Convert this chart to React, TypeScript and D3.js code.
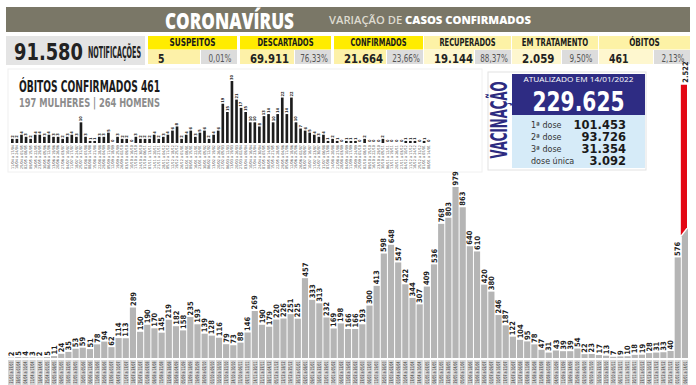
import * as React from 'react';
import * as d3 from 'd3';

// semanas epidemiológicas (rótulos do eixo x)
const semanas = [
  '21/03 a 27/03', '28/03 a 03/04', '04/04 a 10/04', '11/04 a 17/04', '18/04 a 24/04', '25/04 a 01/05', '02/05 a 08/05', '09/05 a 15/05', '16/05 a 22/05', '23/05 a 29/05',
  '30/05 a 05/06', '06/06 a 12/06', '13/06 a 19/06', '20/06 a 26/06', '27/06 a 03/07', '04/07 a 10/07', '11/07 a 17/07', '18/07 a 24/07', '25/07 a 31/07', '01/08 a 07/08',
  '08/08 a 14/08', '15/08 a 21/08', '22/08 a 28/08', '29/08 a 04/09', '05/09 a 11/09', '12/09 a 18/09', '19/09 a 25/09', '26/09 a 02/10', '03/10 a 09/10', '10/10 a 16/10',
  '17/10 a 23/10', '24/10 a 30/10', '31/10 a 06/11', '07/11 a 13/11', '14/11 a 20/11', '21/11 a 27/11', '28/11 a 04/12', '05/12 a 11/12', '12/12 a 18/12', '19/12 a 25/12',
  '26/12 a 01/01', '02/01 a 08/01', '09/01 a 15/01', '16/01 a 22/01', '23/01 a 29/01', '30/01 a 05/02', '06/02 a 12/02', '13/02 a 19/02', '20/02 a 26/02', '27/02 a 05/03',
  '06/03 a 12/03', '13/03 a 19/03', '20/03 a 26/03', '27/03 a 02/04', '03/04 a 09/04', '10/04 a 16/04', '17/04 a 23/04', '24/04 a 30/04', '01/05 a 07/05', '08/05 a 14/05',
  '15/05 a 21/05', '22/05 a 28/05', '29/05 a 04/06', '05/06 a 11/06', '12/06 a 18/06', '19/06 a 25/06', '26/06 a 02/07', '03/07 a 09/07', '10/07 a 16/07', '17/07 a 23/07',
  '24/07 a 30/07', '31/07 a 06/08', '07/08 a 13/08', '14/08 a 20/08', '21/08 a 27/08', '28/08 a 03/09', '04/09 a 10/09', '11/09 a 17/09', '18/09 a 24/09', '25/09 a 01/10',
  '02/10 a 08/10', '09/10 a 15/10', '16/10 a 22/10', '23/10 a 29/10', '30/10 a 05/11', '06/11 a 12/11', '13/11 a 19/11', '20/11 a 26/11', '27/11 a 03/12', '04/12 a 10/12',
  '11/12 a 17/12', '18/12 a 24/12', '25/12 a 31/12', '01/01 a 07/01', '08/01 a 14/01',
];

// casos confirmados por semana
const casos = [
  2, 5, 4, 3, 2, 5, 11, 24, 35, 53,
  59, 51, 78, 94, 62, 114, 113, 289, 150, 190,
  170, 145, 219, 182, 158, 235, 193, 139, 128, 116,
  79, 73, 88, 146, 269, 190, 179, 220, 226, 251,
  225, 457, 333, 313, 232, 169, 198, 166, 166, 193,
  300, 413, 598, 648, 547, 422, 344, 307, 409, 536,
  768, 803, 979, 863, 640, 610, 420, 380, 246, 187,
  122, 104, 95, 78, 47, 31, 43, 39, 39, 54,
  22, 23, 17, 13, 7, 9, 10, 18, 19, 28,
  31, 33, 40, 576, 2522,
];

// óbitos por semana (a partir da 4ª semana)
const obitosSemanas = semanas.slice(3);
const obitos = [
  2, 2, 4, 3, 2, 4, 4, 3, 4, 3,
  3, 2, 3, 4, 3, 10, 3, 1, 1, 3,
  3, 5, 0, 3, 2, 2, 0, 3, 2, 2,
  2, 4, 2, 3, 4, 6, 8, 2, 4, 6,
  3, 5, 6, 2, 4, 6, 19, 15, 30, 21,
  17, 15, 10, 10, 8, 13, 14, 10, 14, 22,
  14, 22, 10, 7, 6, 5, 4, 3, 4, 1,
  2, 1, 0, 1, 1, 1, 0, 2, 0, 0,
  0, 2, 0, 0, 0, 0, 1, 1, 1, 0,
  1, 0,
];

const statLabels = ['SUSPEITOS', 'DESCARTADOS', 'CONFIRMADOS', 'RECUPERADOS', 'EM TRATAMENTO', 'ÓBITOS'];
const statValues = ['5', '69.911', '21.664', '19.144', '2.059', '461'];
const statPcts = ['0,01%', '76,33%', '23,66%', '88,37%', '9,50%', '2,13%'];

const doseLabels = ['1ª dose', '2ª dose', '3ª dose', 'dose única'];
const doseValues = [101453, 93726, 31354, 3092];
const vacinaTotal = 229625;

const COND = "'Liberation Sans Narrow','DejaVu Sans Condensed','Roboto',sans-serif";
const SANS = "'DejaVu Sans','Liberation Sans',sans-serif";

const ptBR = d3.formatLocale({ decimal: ',', thousands: '.', grouping: [3], currency: ['R$', ''] });
const fmt = ptBR.format(',d');

const cellEdges: [number, number][] = [[148, 237], [240, 331], [334, 423], [424, 511], [512, 598], [599, 690]];

export default function App() {
  const n = casos.length;
  const x = d3.scaleBand<number>().domain(d3.range(n)).range([8, 688]).paddingInner(0.14);
  const y = d3.scaleLinear().domain([0, 979]).range([358, 187]);
  const bw = x.bandwidth();
  const breakValue = 720;
  const capValue = 1565;

  const ix = d3.scaleBand<number>().domain(d3.range(obitos.length)).range([11, 430]).paddingInner(0.42);
  const iy = d3.scaleLinear().domain([0, 30]).range([143, 81]);
  const ibw = ix.bandwidth();

  return (
    <svg width={696} height={385} style={{ position: 'absolute', left: 0, top: 0, background: '#fff' }}>
      {/* cabeçalho */}
      <rect x={6} y={7} width={684} height={25} fill="#7a7767" />
      <text x={165} y={28.5} fill="#fff" fontFamily="'Open Sans',sans-serif" fontWeight={800} fontSize={22} textLength={129} lengthAdjust="spacingAndGlyphs">CORONAVÍRUS</text>
      <text x={329} y={24} fontFamily="'Open Sans',sans-serif" fontSize={10.5} textLength={202} lengthAdjust="spacingAndGlyphs">
        <tspan fill="#dedbd0" fontWeight={600}>VARIAÇÃO DE </tspan>
        <tspan fill="#fff" fontWeight={800}>CASOS CONFIRMADOS</tspan>
      </text>

      {/* notificações */}
      <rect x={6} y={36} width={139} height={29} fill="#e4e4e4" />
      <text x={14} y={60} fontFamily={SANS} fontWeight="bold" fontSize={23} fill="#222" textLength={69} lengthAdjust="spacingAndGlyphs">91.580</text>
      <text x={88} y={58} fontFamily={COND} fontWeight="bold" fontSize={15} fill="#222" textLength={53} lengthAdjust="spacingAndGlyphs">NOTIFICAÇÕES</text>

      {statLabels.map((lab, i) => {
        const [x0, x1] = cellEdges[i];
        const strong = i < 3;
        const pw = 36;
        const val = statValues[i];
        return (
          <g key={lab}>
            <rect x={x0} y={36} width={x1 - x0} height={13.5} fill={strong ? '#ffec00' : '#fdf2a6'} />
            <text x={(x0 + x1) / 2} y={45.5} textAnchor="middle" fontFamily={COND} fontWeight="bold" fontSize={10} fill="#1a1a1a" textLength={lab.length * 5.1} lengthAdjust="spacingAndGlyphs">{lab}</text>
            <rect x={x0} y={50} width={x1 - x0 - pw - 1} height={14} fill={strong ? '#fdf1a8' : '#fef7cf'} />
            <rect x={x1 - pw} y={50} width={pw} height={14} fill="#dcdcdc" />
            <text x={x0 + 10} y={62.5} fontFamily={SANS} fontWeight="bold" fontSize={12} fill="#222" textLength={val.length * 6.5} lengthAdjust="spacingAndGlyphs">{val}</text>
            <text x={x1 - pw / 2 + 1} y={61.5} textAnchor="middle" fontFamily={COND} fontSize={10.5} fill="#555" textLength={statPcts[i].length * 4.6} lengthAdjust="spacingAndGlyphs">{statPcts[i]}</text>
          </g>
        );
      })}

      {/* quadro de óbitos */}
      <rect x={8} y={69} width={474} height={103} fill="#fff" stroke="#f0f0f0" />
      <text x={19} y={92} fontFamily={COND} fontWeight="bold" fontSize={16} fill="#1a1a1a" textLength={141} lengthAdjust="spacingAndGlyphs">ÓBITOS CONFIRMADOS 461</text>
      <text x={19} y={107} fontFamily={COND} fontWeight="bold" fontSize={12} fill="#8c8c8c" textLength={141} lengthAdjust="spacingAndGlyphs">197 MULHERES | 264 HOMENS</text>
      {obitos.map((v, i) => {
        const x0 = ix(i) ?? 0;
        const cx = x0 + ibw / 2;
        return (
          <g key={'o' + i}>
            <rect x={x0} y={iy(v)} width={ibw} height={iy(0) - iy(v)} fill="#1c1c1c" />
            <text transform={`translate(${cx},${iy(v) - 1}) rotate(-90)`} dy="0.35em" fontFamily={COND} fontWeight="bold" fontSize={4} fill="#222">{v}</text>
            <text transform={`translate(${cx},${iy(0) + 2}) rotate(-90)`} dy="0.35em" textAnchor="end" fontFamily={COND} fontSize={3.8} fill="#555">{obitosSemanas[i]}</text>
          </g>
        );
      })}

      {/* vacinação */}
      <rect x={488} y={72} width={158} height={98} fill="#fff" stroke="#e2e2e2" />
      <text transform="translate(507,120) rotate(-90)" textAnchor="middle" fontFamily={COND} fontWeight="bold" fontSize={23} fill="#2d2b80" textLength={77} lengthAdjust="spacingAndGlyphs">VACINAÇÃO</text>
      <rect x={512} y={74} width={133} height={41} fill="#2e2c83" />
      <text x={578.5} y={82} textAnchor="middle" fontFamily="'Open Sans',sans-serif" fontSize={7.5} fill="#fff" textLength={110} lengthAdjust="spacingAndGlyphs">ATUALIZADO EM 14/01/2022</text>
      <text x={578.5} y={111} textAnchor="middle" fontFamily={COND} fontWeight="bold" fontSize={27} fill="#fff" textLength={92} lengthAdjust="spacingAndGlyphs">{fmt(vacinaTotal)}</text>
      <rect x={512} y={115} width={133} height={53} fill="#d6ebf8" />
      {doseLabels.map((lab, i) => (
        <g key={lab}>
          <text x={531} y={128 + i * 12} fontFamily={SANS} fontSize={8} fill="#333">{lab}</text>
          <text x={626} y={129 + i * 12} textAnchor="end" fontFamily={SANS} fontWeight="bold" fontSize={11.5} fill="#1a1a1a">{fmt(doseValues[i])}</text>
        </g>
      ))}

      {/* barras de casos */}
      {casos.map((v, i) => {
        const x0 = x(i) ?? 0;
        const cx = x0 + bw / 2;
        const base = y(0);
        if (v > 979) {
          const yb = y(breakValue);
          const yt = y(capValue);
          return (
            <g key={'c' + i}>
              <polygon points={`${x0},${base} ${x0 + bw},${base} ${x0 + bw},${yb - 4} ${x0},${yb + 4}`} fill="#b5b5b5" />
              <polygon points={`${x0 - 1},${yt} ${x0 + bw - 1},${yt} ${x0 + bw - 1},${yb - 5} ${x0 - 1},${yb + 3}`} fill="#e30613" />
              <text transform={`translate(${cx},${yt - 2}) rotate(-90)`} dy="0.35em" fontFamily={COND} fontWeight="bold" fontSize={7.5} fill="#222">{fmt(v)}</text>
            </g>
          );
        }
        return (
          <g key={'c' + i}>
            <rect x={x0} y={y(v)} width={bw} height={base - y(v)} fill="#b5b5b5" />
            <text transform={`translate(${cx},${y(v) - 1.5}) rotate(-90)`} dy="0.35em" fontFamily={COND} fontWeight="bold" fontSize={7.5} fill="#222">{fmt(v)}</text>
          </g>
        );
      })}

      {/* rótulos das semanas */}
      {semanas.map((s, i) => {
        const x0 = x(i) ?? 0;
        return (
          <g key={'s' + i}>
            <rect x={x0} y={360} width={bw} height={25} fill="#d4d4d4" />
            <text transform={`translate(${x0 + bw / 2},361.5) rotate(-90)`} dy="0.35em" textAnchor="end" fontFamily={COND} fontSize={5} fill="#333" textLength={22} lengthAdjust="spacingAndGlyphs">{s}</text>
          </g>
        );
      })}
    </svg>
  );
}
